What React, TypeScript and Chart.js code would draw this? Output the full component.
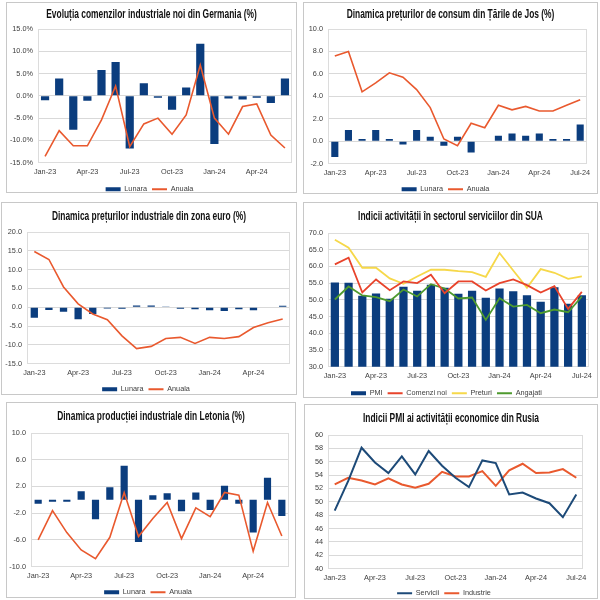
import React, { useEffect, useRef } from 'react';
import { Chart, registerables } from 'chart.js';
Chart.register(...registerables);

const months = ['Jan-23','Feb-23','Mar-23','Apr-23','May-23','Jun-23','Jul-23','Aug-23','Sep-23','Oct-23','Nov-23','Dec-23','Jan-24','Feb-24','Mar-24','Apr-24','May-24','Jun-24','Jul-24'];
const months18 = months.slice(0, 18);

const deLunara = [-1.0, 3.9, -7.6, -1.1, 5.8, 7.6, -11.8, 2.8, -0.4, -3.1, 1.9, 11.7, -10.8, -0.6, -0.8, -0.4, -1.6, 3.9];
const deAnuala = [-13.6, -7.8, -11.2, -11.2, -5.4, 2.2, -11.4, -6.3, -5.0, -8.6, -4.3, 6.9, -5.0, -8.6, -2.4, -1.8, -8.8, -11.7];

const nlLunara = [-1.4, 1.0, 0.2, 1.0, 0.2, -0.3, 1.0, 0.4, -0.4, 0.4, -1.0, 0.0, 0.5, 0.7, 0.5, 0.7, 0.2, 0.2, 1.5];
const nlAnuala = [7.6, 8.0, 4.4, 5.2, 6.1, 5.7, 4.6, 3.0, 0.2, -0.4, 1.6, 1.2, 3.2, 2.8, 3.1, 2.7, 2.7, 3.2, 3.7];

const ezLunara = [-2.8, -0.7, -1.2, -3.2, -1.8, -0.3, -0.4, 0.5, 0.5, 0.1, -0.4, -0.5, -0.8, -1.0, -0.5, -0.8, -0.1, 0.4];
const ezAnuala = [14.8, 12.7, 5.4, 0.9, -1.8, -3.3, -7.6, -11.0, -10.4, -8.3, -8.0, -9.6, -8.0, -8.3, -7.8, -5.4, -4.1, -3.1];

const usPmi = [55.2, 55.1, 51.2, 51.9, 50.3, 53.9, 52.7, 54.5, 53.6, 51.8, 52.7, 50.6, 53.4, 52.6, 51.4, 49.4, 53.8, 48.8, 51.4];
const usComenzi = [60.6, 62.6, 52.2, 56.1, 52.9, 55.5, 55.0, 57.5, 52.0, 55.5, 55.5, 52.8, 55.0, 56.1, 54.4, 52.2, 54.1, 47.3, 52.4];
const usPreturi = [68.0, 65.6, 59.6, 59.6, 56.4, 54.8, 57.0, 59.0, 59.0, 58.6, 58.3, 56.9, 64.0, 58.8, 53.6, 59.2, 58.1, 56.3, 57.0];
const usAngajati = [50.1, 54.0, 51.3, 50.8, 49.6, 53.1, 51.0, 54.7, 53.4, 50.4, 50.7, 44.0, 50.5, 48.0, 48.5, 46.0, 47.1, 46.3, 51.0];

const lvLunara = [-0.6, -0.3, -0.3, 1.3, -2.9, 1.9, 5.1, -6.3, 0.7, 1.0, -1.7, 1.1, -1.5, 2.1, -0.6, -4.9, 3.3, -2.4];
const lvAnuala = [-6.0, -1.6, -4.9, -7.5, -8.8, -5.6, 1.1, -5.5, -2.8, -0.4, -5.8, -1.2, -2.5, 1.1, 0.7, -7.7, -0.4, -5.4];

const ruServicii = [48.7, 53.1, 58.1, 55.9, 54.3, 56.8, 54.1, 57.6, 55.4, 53.6, 52.2, 56.2, 55.8, 51.1, 51.4, 50.5, 49.8, 47.7, 51.1];
const ruIndustrie = [52.6, 53.6, 53.2, 52.6, 53.5, 52.6, 52.1, 52.7, 54.5, 53.8, 53.8, 54.6, 52.4, 54.7, 55.7, 54.3, 54.4, 54.9, 53.6];

const NAVY = '#0B3D7E';
const ORANGE = '#E9592E';
const RED = '#E8432B';
const YELLOW = '#F6D84A';
const GREEN = '#4E9A2E';
const RU_BLUE = '#1D4A78';

const TICK_FONT = { family: '"Liberation Sans", Arial, sans-serif', size: 7.3 };
const LEGEND_FONT = { family: '"Liberation Sans", Arial, sans-serif', size: 7.3 };
const LEGEND_PAD = 5;

const plotBorder = {
  id: 'plotBorder',
  beforeDatasetsDraw(chart: any) {
    const { ctx, chartArea: a } = chart;
    ctx.save();
    ctx.strokeStyle = '#dcdcdc';
    ctx.lineWidth = 1;
    ctx.strokeRect(Math.round(a.left) + 0.5, Math.round(a.top) + 0.5, Math.round(a.right - a.left) - 1, Math.round(a.bottom - a.top) - 1);
    ctx.restore();
  },
};

// Chart title drawn as condensed bold text (the reference uses a narrow heavy face)
const condensedTitle = {
  id: 'condensedTitle',
  afterDraw(chart: any, _args: any, opts: any) {
    if (!opts || !opts.text) return;
    const { ctx, width } = chart;
    ctx.save();
    ctx.font = 'bold 12px "Liberation Sans", Arial, sans-serif';
    ctx.fillStyle = '#111111';
    ctx.textAlign = 'center';
    ctx.textBaseline = 'middle';
    ctx.translate(width / 2, opts.y);
    ctx.scale(opts.sx, 1);
    ctx.fillText(opts.text, 0, 0);
    ctx.restore();
  },
};

function bar(label: string, data: number[], pct: number) {
  return { type: 'bar', label, data, backgroundColor: NAVY, borderWidth: 0, barPercentage: pct, categoryPercentage: 1, order: 2 };
}
function line(label: string, data: number[], color: string, width = 1.6) {
  return { type: 'line', label, data, borderColor: color, backgroundColor: color, borderWidth: width, pointRadius: 0, tension: 0, order: 1 };
}

type Spec = {
  x: number; y: number; w: number; h: number;
  titleCenter: number; plotTop: number; plotBottom: number; plotLeft: number; plotRight: number; legendCenter: number;
  title: string; labels: string[]; datasets: any[];
  yMin: number; yMax: number; yStep: number; fmt: (v: number) => string;
};

const fmt1 = (v: number) => v.toFixed(1);
const fmtPct = (v: number) => v.toFixed(1) + '%';
const fmt0 = (v: number) => String(Math.round(v));

const specs: Spec[] = [
  { x: 6, y: 2, w: 291, h: 191, titleCenter: 12, plotTop: 26, plotBottom: 159, plotLeft: 31, plotRight: 285, legendCenter: 186,
    title: 'Evoluția comenzilor industriale noi din Germania (%)', labels: months18,
    datasets: [bar('Lunara', deLunara, 0.58), line('Anuala', deAnuala, ORANGE)], yMin: -15, yMax: 15, yStep: 5, fmt: fmtPct },
  { x: 303, y: 2, w: 295, h: 192, titleCenter: 12, plotTop: 26, plotBottom: 160, plotLeft: 24, plotRight: 283, legendCenter: 186,
    title: 'Dinamica prețurilor de consum din Țările de Jos (%)', labels: months,
    datasets: [bar('Lunara', nlLunara, 0.52), line('Anuala', nlAnuala, ORANGE)], yMin: -2, yMax: 10, yStep: 2, fmt: fmt1 },
  { x: 1, y: 202, w: 296, h: 193, titleCenter: 14, plotTop: 29, plotBottom: 160, plotLeft: 25, plotRight: 288, legendCenter: 186,
    title: 'Dinamica prețurilor industriale din zona euro (%)', labels: months18,
    datasets: [bar('Lunara', ezLunara, 0.5), line('Anuala', ezAnuala, ORANGE)], yMin: -15, yMax: 20, yStep: 5, fmt: fmt1 },
  { x: 303, y: 202, w: 295, h: 196, titleCenter: 14, plotTop: 30, plotBottom: 163, plotLeft: 24, plotRight: 285, legendCenter: 190,
    title: 'Indicii activității în sectorul serviciilor din SUA', labels: months,
    datasets: [bar('PMI', usPmi, 0.6), line('Comenzi noi', usComenzi, RED, 1.8), line('Preturi', usPreturi, YELLOW, 1.8), line('Angajati', usAngajati, GREEN, 1.8)],
    yMin: 30, yMax: 70, yStep: 5, fmt: fmt1 },
  { x: 6, y: 402, w: 290, h: 196, titleCenter: 14, plotTop: 30, plotBottom: 163, plotLeft: 24, plotRight: 282, legendCenter: 189,
    title: 'Dinamica producției industriale din Letonia (%)', labels: months18,
    datasets: [bar('Lunara', lvLunara, 0.5), line('Anuala', lvAnuala, ORANGE)], yMin: -10, yMax: 10, yStep: 4, fmt: fmt1 },
  { x: 304, y: 404, w: 294, h: 195, titleCenter: 14, plotTop: 30, plotBottom: 163, plotLeft: 23, plotRight: 278, legendCenter: 188,
    title: 'Indicii PMI ai activității economice din Rusia', labels: months,
    datasets: [line('Servicii', ruServicii, RU_BLUE, 2), line('Industrie', ruIndustrie, ORANGE, 2)],
    yMin: 40, yMax: 60, yStep: 2, fmt: fmt0 },
];

function Panel({ s }: { s: Spec }) {
  const ref = useRef<HTMLCanvasElement | null>(null);
  const innerW = s.w - 2;
  const H = s.legendCenter + 14;
  useEffect(() => {
    if (!ref.current) return;
    const xH = s.legendCenter - LEGEND_PAD - 4 - s.plotBottom;
    const chart = new Chart(ref.current, {
      type: 'bar',
      data: { labels: s.labels, datasets: s.datasets as any },
      options: {
        animation: false,
        responsive: false,
        devicePixelRatio: 1,
        layout: { padding: { left: 0, right: innerW - s.plotRight, top: s.plotTop, bottom: 0 } },
        plugins: {
          title: { display: false },
          condensedTitle: { text: s.title, y: s.titleCenter, sx: 0.7 },
          legend: {
            position: 'bottom',
            labels: {
              usePointStyle: true, pointStyleWidth: 15, boxHeight: 4, padding: LEGEND_PAD,
              font: LEGEND_FONT, color: '#404040',
              generateLabels: (chart: any) => chart.data.datasets.map((ds: any, i: number) => ({
                text: ds.label,
                fillStyle: ds.type === 'bar' ? ds.backgroundColor : ds.borderColor,
                strokeStyle: ds.type === 'bar' ? ds.backgroundColor : ds.borderColor,
                lineWidth: ds.type === 'bar' ? 0 : 2,
                pointStyle: ds.type === 'bar' ? 'rect' : 'line',
                fontColor: '#404040',
                hidden: false,
                datasetIndex: i,
              })),
            },
          },
          tooltip: { enabled: false },
        },
        scales: {
          x: {
            grid: { display: false, drawTicks: false },
            border: { display: false },
            ticks: {
              autoSkip: false, maxRotation: 0, minRotation: 0, padding: 5, font: TICK_FONT, color: '#404040',
              callback: (_v: any, i: number) => (i % 3 === 0 ? s.labels[i] : ''),
            },
            afterFit: (sc: any) => { sc.height = xH; },
          },
          y: {
            min: s.yMin, max: s.yMax,
            ticks: { stepSize: s.yStep, padding: 5, font: TICK_FONT, color: '#404040', callback: (v: any) => s.fmt(Number(v)) },
            grid: { color: '#d9d9d9', drawTicks: false },
            border: { display: false },
            afterFit: (sc: any) => { sc.width = s.plotLeft; },
          },
        },
      } as any,
      plugins: [plotBorder, condensedTitle],
    });
    return () => chart.destroy();
  }, []);
  return (
    <div style={{ position: 'absolute', left: s.x, top: s.y, width: s.w, height: s.h, border: '1px solid #c8c8c8', boxSizing: 'border-box', background: '#fff' }}>
      <canvas ref={ref} width={innerW} height={H} style={{ position: 'absolute', left: 0, top: 0, width: innerW, height: H }} />
    </div>
  );
}

export default function App() {
  return (
    <div style={{ position: 'absolute', left: 0, top: 0, width: 600, height: 600, overflow: 'hidden', background: '#fff' }}>
      {specs.map((s, i) => <Panel key={i} s={s} />)}
    </div>
  );
}
